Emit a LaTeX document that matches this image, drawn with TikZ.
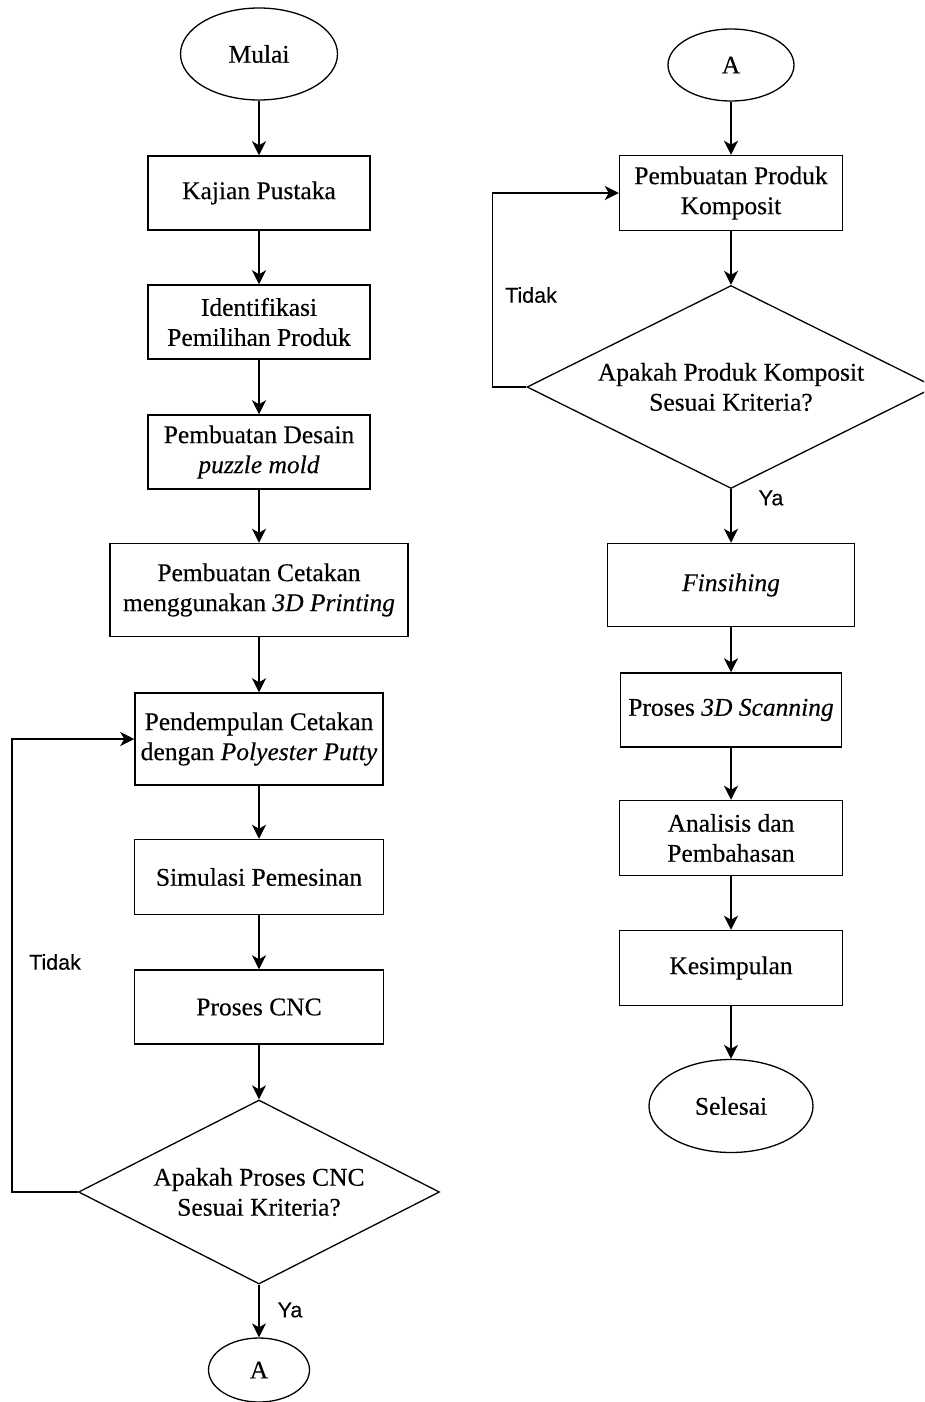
\documentclass[tikz,border=0pt]{standalone}
\usepackage{fontspec}
\setmainfont{Liberation Serif}[FakeBold=0.3]
\setsansfont{Liberation Sans}[FakeBold=0.3]
\usepackage{tikz}
\usetikzlibrary{arrows.meta,shapes.geometric,positioning}
\tikzset{
  trm/.style={ellipse,draw=black,line width=1.3pt,inner sep=0pt,font=\fontsize{25.5}{30}\selectfont},
  prc/.style={rectangle,draw=black,line width=1.5pt,inner sep=0pt,align=center,font=\fontsize{25.5}{30}\selectfont},
  dcs/.style={diamond,aspect=2,draw=black,line width=1.3pt,inner sep=0pt,align=center,font=\fontsize{25.5}{30}\selectfont},
  alr/.style={-{Stealth[length=14pt,width=14pt,inset=4pt]},line width=1.4pt,draw=black},
  lbl/.style={font=\sffamily\fontsize{21.5}{25}\selectfont},
}

\begin{document}
\begin{tikzpicture}[x=1pt,y=-1pt]
\clip (0,0) rectangle (924,1402);
% ---- left column
\node[trm,minimum width=157pt,minimum height=92pt] (mli) at (259,54) {Mulai};
\node[prc,minimum width=222pt,minimum height=74pt] (kjn) at (259,193) {Kajian Pustaka};
\node[prc,minimum width=222pt,minimum height=74pt] (idf) at (259,322) {Identifikasi\\Pemilihan Produk};
\node[prc,minimum width=222pt,minimum height=74pt] (dsn) at (259,452) {Pembuatan Desain\\\textit{puzzle mold}};
\node[prc,minimum width=298pt,minimum height=93pt] (ctk) at (259,590) {Pembuatan Cetakan\\menggunakan \textit{3D Printing}};
\node[prc,minimum width=248pt,minimum height=92pt] (pdm) at (259,739) {Pendempulan Cetakan\\dengan \textit{Polyester Putty}};
\node[prc,minimum width=249pt,minimum height=75pt] (sml) at (259,877) {Simulasi Pemesinan};
\node[prc,minimum width=249pt,minimum height=74pt] (cnc) at (259,1007) {Proses CNC};
\node[dcs,minimum width=361pt,minimum height=184pt] (dc1) at (259,1192) {Apakah Proses CNC\\Sesuai Kriteria?};
\node[trm,minimum width=101pt,minimum height=64pt] (ca1) at (259,1370) {A};
\draw[alr] (mli)--(kjn);
\draw[alr] (kjn)--(idf);
\draw[alr] (idf)--(dsn);
\draw[alr] (dsn)--(ctk);
\draw[alr] (ctk)--(pdm);
\draw[alr] (pdm)--(sml);
\draw[alr] (sml)--(cnc);
\draw[alr] (cnc)--(dc1);
\draw[alr] (dc1)--(ca1);
\draw[alr] (dc1.west) -- ++(-66,0) |- (pdm.west);
\node[lbl] (td1) at (55,962) {Tidak};
\node[lbl] (ya1) at (290,1310) {Ya};
% ---- right column
\node[trm,minimum width=126pt,minimum height=72pt] (ca2) at (731,65) {A};
\node[prc,minimum width=223pt,minimum height=75pt] (pbk) at (731,193) {Pembuatan Produk\\Komposit};
\node[dcs,minimum width=408pt,minimum height=203pt] (dc2) at (731,387) {Apakah Produk Komposit\\Sesuai Kriteria?};
\node[prc,minimum width=247pt,minimum height=83pt] (fns) at (731,585) {\textit{Finsihing}};
\node[prc,minimum width=221pt,minimum height=74pt] (scn) at (731,710) {Proses \textit{3D Scanning}};
\node[prc,minimum width=223pt,minimum height=75pt] (anl) at (731,838) {Analisis dan\\Pembahasan};
\node[prc,minimum width=223pt,minimum height=75pt] (ksm) at (731,968) {Kesimpulan};
\node[trm,minimum width=164pt,minimum height=93pt] (sls) at (731,1106) {Selesai};
\draw[alr] (ca2)--(pbk);
\draw[alr] (pbk)--(dc2);
\draw[alr] (dc2)--(fns);
\draw[alr] (fns)--(scn);
\draw[alr] (scn)--(anl);
\draw[alr] (anl)--(ksm);
\draw[alr] (ksm)--(sls);
\draw[alr] (dc2.west) -- ++(-34,0) |- (pbk.west);
\node[lbl] (td2) at (531,295) {Tidak};
\node[lbl] (ya2) at (771,498) {Ya};
\end{tikzpicture}
\end{document}
